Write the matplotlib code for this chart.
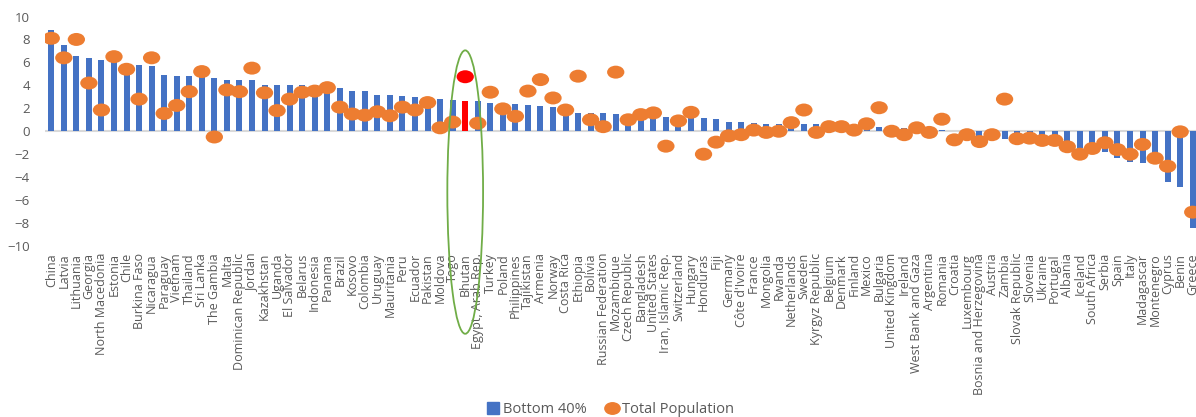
import matplotlib.pyplot as plt
import numpy as np
from matplotlib.path import Path
from matplotlib.patches import Ellipse
from matplotlib.lines import Line2D
from matplotlib.transforms import Affine2D

plt.rcParams['font.family'] = ['Open Sans', 'DejaVu Sans']

countries = [
    "China", "Latvia", "Lithuania", "Georgia", "North Macedonia", "Estonia",
    "Chile", "Burkina Faso", "Nicaragua", "Paraguay", "Vietnam", "Thailand",
    "Sri Lanka", "The Gambia", "Malta", "Dominican Republic", "Jordan",
    "Kazakhstan", "Uganda", "El Salvador", "Belarus", "Indonesia", "Panama",
    "Brazil", "Kosovo", "Colombia", "Uruguay", "Mauritania", "Peru", "Ecuador",
    "Pakistan", "Moldova", "Togo", "Bhutan", "Egypt, Arab Rep.", "Turkey",
    "Poland", "Philippines", "Tajikistan", "Armenia", "Norway", "Costa Rica",
    "Ethiopia", "Bolivia", "Russian Federation", "Mozambique",
    "Czech Republic", "Bangladesh", "United States", "Iran, Islamic Rep.",
    "Switzerland", "Hungary", "Honduras", "Fiji", "Germany", "Côte d'Ivoire",
    "France", "Mongolia", "Rwanda", "Netherlands", "Sweden",
    "Kyrgyz Republic", "Belgium", "Denmark", "Finland", "Mexico", "Bulgaria",
    "United Kingdom", "Ireland", "West Bank and Gaza", "Argentina", "Romania",
    "Croatia", "Luxembourg", "Bosnia and Herzegovina", "Austria", "Zambia",
    "Slovak Republic", "Slovenia", "Ukraine", "Portugal", "Albania",
    "Iceland", "South Africa", "Serbia", "Spain", "Italy", "Madagascar",
    "Montenegro", "Cyprus", "Benin", "Greece",
]

# annualized growth, bottom 40% of the distribution
bottom40 = [
    8.8, 7.5, 6.6, 6.4, 6.2, 6.1, 5.9, 5.8, 5.65, 4.9, 4.8, 4.8,
    4.8, 4.6, 4.5, 4.45, 4.45, 4.05, 4.05, 4.05, 4.05, 4.0, 3.9,
    3.8, 3.5, 3.5, 3.2, 3.2, 3.05, 2.95, 2.85, 2.8, 2.75, 2.6, 2.6, 2.5,
    2.5, 2.4, 2.25, 2.2, 2.1, 1.9, 1.6, 1.6, 1.6, 1.5,
    1.4, 1.35, 1.3, 1.2, 1.2, 1.15, 1.15, 1.05, 0.8, 0.8,
    0.7, 0.65, 0.6, 0.45, 0.6, 0.6, 0.45, 0.4, 0.35, 0.4, 0.4,
    0.25, 0.25, 0.1, 0.05, 0.1, 0.05, -0.05, -0.4, -0.1, -0.7,
    -0.55, -0.55, -0.6, -0.7, -1.3, -1.45, -1.6, -1.85, -2.3, -2.7, -2.8,
    -2.8, -4.4, -4.9, -8.4,
]

# annualized growth, total population
total_pop = [
    8.1, 6.4, 8.0, 4.2, 1.85, 6.5, 5.4, 2.8, 6.4, 1.55, 2.25, 3.45,
    5.2, -0.5, 3.6, 3.45, 5.5, 3.35, 1.8, 2.8, 3.4, 3.5, 3.8,
    2.1, 1.5, 1.4, 1.7, 1.35, 2.1, 1.85, 2.5, 0.3, 0.8, 4.75, 0.7, 3.4,
    1.95, 1.3, 3.5, 4.5, 2.9, 1.85, 4.8, 1.0, 0.4, 5.15,
    1.0, 1.45, 1.6, -1.3, 0.9, 1.65, -2.0, -0.95, -0.4, -0.3,
    0.1, -0.1, 0.0, 0.75, 1.85, -0.1, 0.4, 0.4, 0.1, 0.65, 2.05,
    0.0, -0.3, 0.3, -0.1, 1.05, -0.75, -0.3, -0.9, -0.3, 2.8,
    -0.65, -0.6, -0.8, -0.8, -1.35, -2.0, -1.5, -1.0, -1.6, -2.0, -1.15,
    -2.35, -3.05, -0.05, -7.05,
]

highlight = "Bhutan"

BLUE = "#4472C4"
ORANGE = "#ED7D31"
RED = "#FF0000"
GREY = "#595959"

x = np.arange(len(countries))
bar_colors = [RED if c == highlight else BLUE for c in countries]
dot_colors = [RED if c == highlight else ORANGE for c in countries]

# slightly flattened round marker
oval = Path.unit_circle().transformed(Affine2D().scale(1.0, 0.75))

fig = plt.figure(figsize=(11.96, 4.17), dpi=100)
ax = fig.add_axes([45 / 1196, 171 / 417, 1154 / 1196, 229.5 / 417])

ax.axhline(0, color="#D9D9D9", lw=1.5, zorder=0)
ax.bar(x, bottom40, width=0.48, color=bar_colors, zorder=2)
ax.scatter(x, total_pop, marker=oval, s=155, c=dot_colors,
           linewidths=0, zorder=3)

# ring around the highlighted country, running down over its label
hi = countries.index(highlight)
ring = Ellipse((hi, -5.3), width=2.85, height=24.7, fill=False,
               edgecolor="#70AD47", lw=1.3, clip_on=False, zorder=4)
ax.add_patch(ring)

ax.set_xlim(-0.5, len(countries) - 0.5)
ax.set_ylim(-10, 10)
ax.set_yticks(np.arange(-10, 11, 2))
ax.set_xticks(x)
ax.set_xticklabels(countries, rotation=90, fontsize=9, color=GREY)
ax.tick_params(axis='x', length=0, pad=5)
ax.tick_params(axis='y', length=0, pad=11, labelsize=9.5, labelcolor=GREY)
for s in ax.spines.values():
    s.set_visible(False)

handles = [
    Line2D([], [], marker='s', color=BLUE, lw=0, markersize=8),
    Line2D([], [], marker=oval, color=ORANGE, lw=0, markersize=11),
]
fig.legend(handles, ["Bottom 40%", "Total Population"], loc='center',
           bbox_to_anchor=(0.51, 0.018), ncol=2, frameon=False,
           fontsize=10.5, labelcolor=GREY, handletextpad=0.2,
           columnspacing=1.2, handlelength=1.0)

fig.savefig("out.png", dpi=100)
